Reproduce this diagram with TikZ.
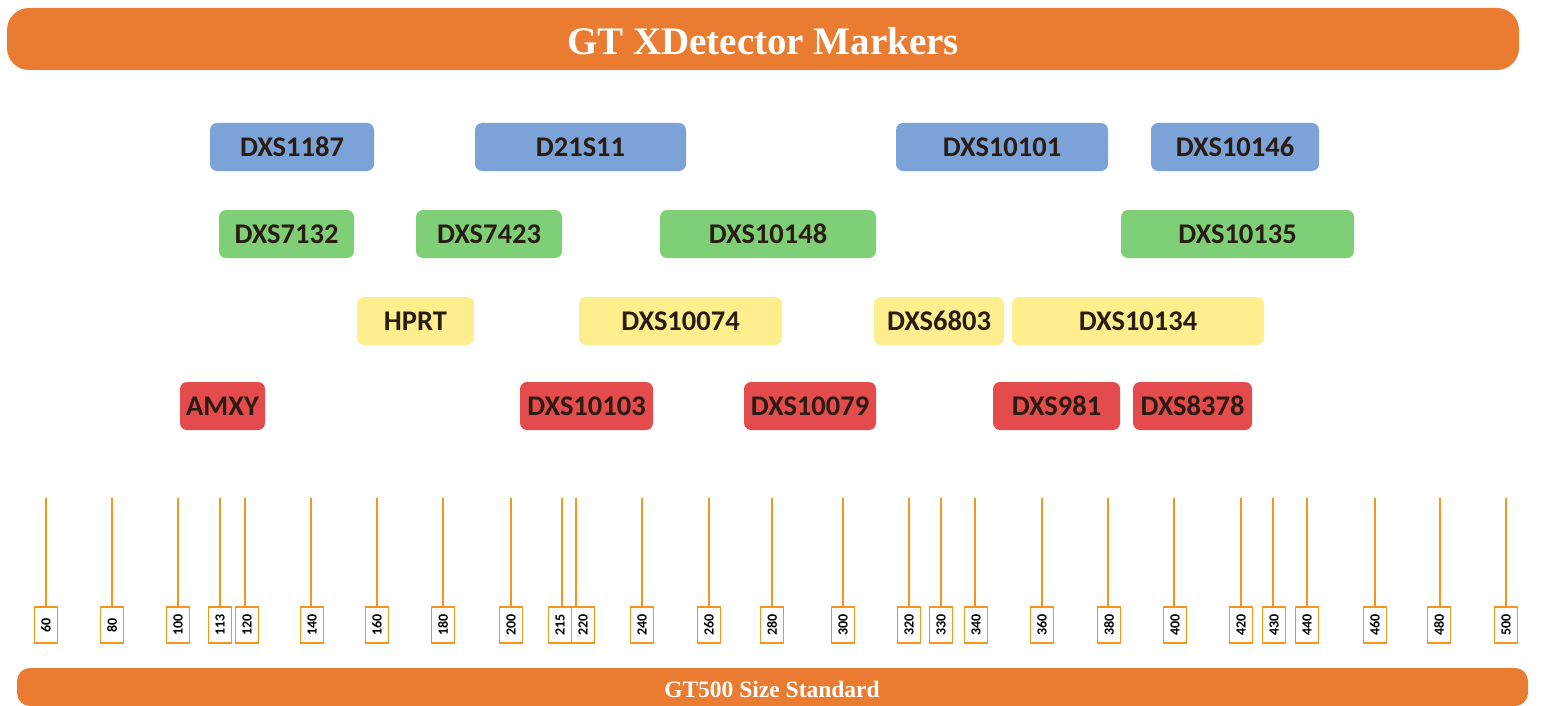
\documentclass[tikz,border=0pt]{standalone}
\usepackage{fontspec}
\setmainfont{Liberation Serif}
\newfontfamily\calib{Carlito}
\definecolor{barorange}{HTML}{E97C30}
\definecolor{tickorange}{HTML}{F7941D}
\definecolor{mblue}{HTML}{7BA3D8}
\definecolor{mgreen}{HTML}{7ECF76}
\definecolor{myellow}{HTML}{FEEE8E}
\definecolor{mred}{HTML}{E44B4C}
\definecolor{mtext}{HTML}{2A1C12}
\tikzset{
  bar/.style={fill=barorange, draw=none},
  bartext/.style={text=white, font=\bfseries},
  marker/.style={rounded corners=7pt, draw=none, inner sep=0pt, minimum height=48pt,
    text=mtext, font=\calib\bfseries\fontsize{28.5}{30}\selectfont},
  ticklabel/.style={draw=tickorange, line width=1.2pt, fill=white, rotate=90, inner sep=0pt,
    minimum width=36pt, minimum height=23pt, text=black, font=\calib\bfseries\fontsize{14}{15}\selectfont},
  tickline/.style={draw=tickorange, line width=2.5pt}
}
\begin{document}
\begin{tikzpicture}[x=1pt,y=-1pt]
\useasboundingbox (0,0) rectangle (1544,706);
% title bar
\fill[bar, rounded corners=22pt] (7,8) rectangle (1519,70);
\node[bartext, font=\bfseries\fontsize{39}{42}\selectfont] (title) at (763,41) {GT XDetector Markers};
% bottom bar
\fill[bar, rounded corners=13pt] (17,668) rectangle (1528,706);
\node[bartext, font=\bfseries\fontsize{23.5}{25}\selectfont] (std) at (772,689) {GT500 Size Standard};
% row 1 (blue)
\node[marker, fill=mblue, minimum width=164pt] (dxs1187) at (292,147) {DXS1187};
\node[marker, fill=mblue, minimum width=211pt] (d21s11) at (580.5,147) {D21S11};
\node[marker, fill=mblue, minimum width=212pt] (dxs10101) at (1002,147) {DXS10101};
\node[marker, fill=mblue, minimum width=168pt] (dxs10146) at (1235,147) {DXS10146};
% row 2 (green)
\node[marker, fill=mgreen, minimum width=135pt] (dxs7132) at (286.5,234) {DXS7132};
\node[marker, fill=mgreen, minimum width=146pt] (dxs7423) at (489,234) {DXS7423};
\node[marker, fill=mgreen, minimum width=216pt] (dxs10148) at (768,234) {DXS10148};
\node[marker, fill=mgreen, minimum width=233pt] (dxs10135) at (1237.5,234) {DXS10135};
% row 3 (yellow)
\node[marker, fill=myellow, minimum width=117pt] (hprt) at (415.5,321) {HPRT};
\node[marker, fill=myellow, minimum width=203pt] (dxs10074) at (680.5,321) {DXS10074};
\node[marker, fill=myellow, minimum width=130pt] (dxs6803) at (939,321) {DXS6803};
\node[marker, fill=myellow, minimum width=252pt] (dxs10134) at (1138,321) {DXS10134};
% row 4 (red)
\node[marker, fill=mred, minimum width=85pt] (amxy) at (222.5,406) {AMXY};
\node[marker, fill=mred, minimum width=133pt] (dxs10103) at (586.5,406) {DXS10103};
\node[marker, fill=mred, minimum width=132pt] (dxs10079) at (810,406) {DXS10079};
\node[marker, fill=mred, minimum width=127pt] (dxs981) at (1056.5,406) {DXS981};
\node[marker, fill=mred, minimum width=119pt] (dxs8378) at (1192.5,406) {DXS8378};
% size standard ticks
\foreach \v/\x/\lx in {60/46/46, 80/112/112, 100/178/178, 113/220/220, 120/245/247,
  140/311/312, 160/377/377, 180/443/443, 200/511/511, 215/562/560, 220/576/583,
  240/642/642, 260/709/709, 280/772/772, 300/843/843, 320/909/909, 330/941/941,
  340/975/976, 360/1042/1042, 380/1108/1109, 400/1174/1175, 420/1241/1241,
  430/1273/1274, 440/1307/1307, 460/1375/1375, 480/1440/1439, 500/1506/1506} {
  \coordinate (t\v) at (\x,498);
  \node[ticklabel] (l\v) at (\lx,625) {\v};
  \draw[tickline] (t\v) -- (t\v |- l\v.east);
}
\end{tikzpicture}
\end{document}
